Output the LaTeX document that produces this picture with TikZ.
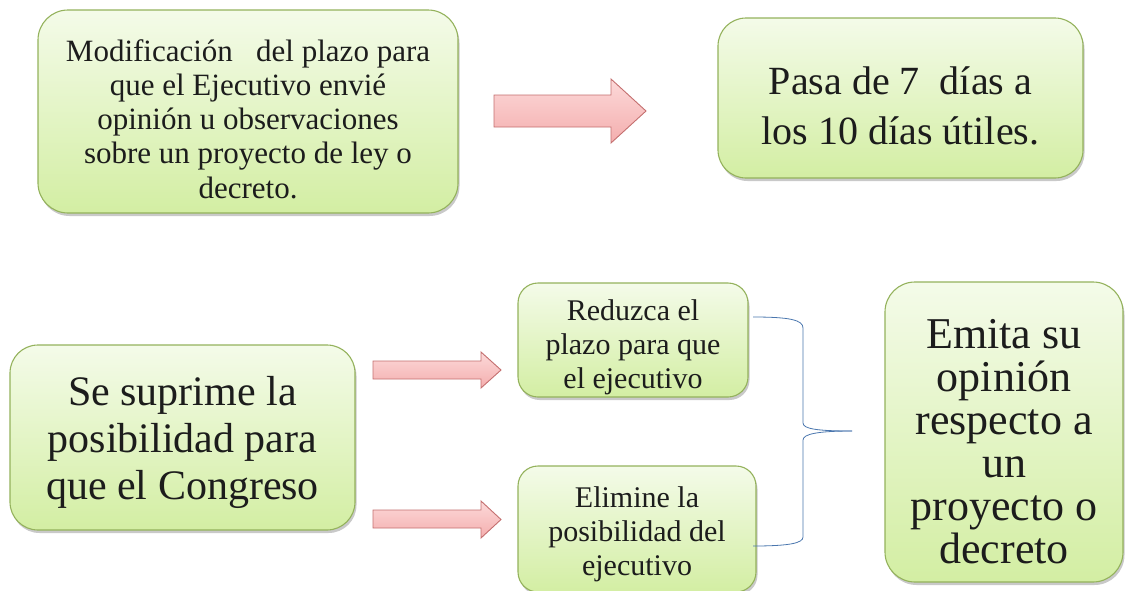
\documentclass[tikz,border=0pt]{standalone}
\usepackage{fontspec}
\setmainfont{Liberation Serif}
\usetikzlibrary{shadows}
\definecolor{gtop}{HTML}{F4FBE9}
\definecolor{gbot}{HTML}{D3EEA3}
\definecolor{gborder}{HTML}{94B25C}
\definecolor{atop}{HTML}{FCD9D9}
\definecolor{abot}{HTML}{F4AEAE}
\definecolor{aborder}{HTML}{C46F6F}
\definecolor{bracec}{HTML}{4A76AE}
\definecolor{txt}{HTML}{1C1C1C}
\newcommand\topstrut[1]{\rule{0pt}{#1}}
\tikzset{
  gbox/.style={draw=gborder, line width=1.1pt, top color=gtop, bottom color=gbot,
    align=center, text=txt, inner sep=0pt,
    drop shadow={shadow xshift=1.5pt, shadow yshift=-3pt, opacity=0.3, fill=black!70}},
  blockarr/.style={draw=aborder, line width=0.9pt, top color=atop, bottom color=abot},
  bracel/.style={draw=bracec, line width=0.8pt}
}
\begin{document}
\begin{tikzpicture}[x=1pt,y=-1pt]
\useasboundingbox (0,0) rectangle (1125,590);
% boxes
\node[gbox, rounded corners=30pt, minimum width=420pt, minimum height=203pt,
  font=\fontsize{31}{34.2}\selectfont] (mod) at (248,111.5)
  {\topstrut{37pt}Modificación \ \ del plazo para\\que el Ejecutivo envié\\opinión u observaciones\\sobre un proyecto de ley o\\decreto.};
\node[gbox, rounded corners=28pt, minimum width=365pt, minimum height=160pt,
  font=\fontsize{40}{50}\selectfont] (pasa) at (900.5,98)
  {\topstrut{44pt}Pasa de 7 \ días a\\los 10 días útiles.};
\node[gbox, rounded corners=28pt, minimum width=345pt, minimum height=185pt,
  font=\fontsize{42}{47}\selectfont] (sup) at (182.5,437.5)
  {\topstrut{39pt}Se suprime la\\posibilidad para\\que el Congreso};
\node[gbox, rounded corners=20pt, minimum width=230pt, minimum height=114pt,
  font=\fontsize{30}{34}\selectfont] (red) at (633,340)
  {\topstrut{35pt}Reduzca el\\plazo para que\\el ejecutivo};
\node[gbox, rounded corners=20pt, minimum width=238pt, minimum height=126pt,
  font=\fontsize{30}{34}\selectfont] (eli) at (637,529)
  {\topstrut{31pt}Elimine la\\posibilidad del\\ejecutivo};
\node[gbox, rounded corners=30pt, minimum width=238pt, minimum height=300pt,
  font=\fontsize{44}{43}\selectfont] (emi) at (1004,432)
  {\topstrut{48pt}Emita su\\opinión\\respecto a\\un\\proyecto o\\decreto};
% block arrows
\path[blockarr] (494,95) -- (611,95) -- (611,79) -- (646,111) -- (611,143) -- (611,127) -- (494,127) -- cycle;
\path[blockarr] (373,361) -- (481,361) -- (481,352) -- (501,370) -- (481,388) -- (481,379) -- (373,379) -- cycle;
\path[blockarr] (373,510) -- (481,510) -- (481,501) -- (501,519.5) -- (481,538) -- (481,528) -- (373,528) -- cycle;
% brace
\coordinate (btop) at (753,317);
\coordinate (bbot) at (753,546);
\coordinate (btip) at (852,431);
\draw[bracel] (btop) .. controls (790,317) and (803,320) .. (803,328) -- (803,423)
  .. controls (803,429) and (818,431) .. (btip);
\draw[bracel] (btip) .. controls (818,431) and (803,434) .. (803,440) -- (803,537)
  .. controls (803,543) and (790,546) .. (bbot);
\end{tikzpicture}
\end{document}
